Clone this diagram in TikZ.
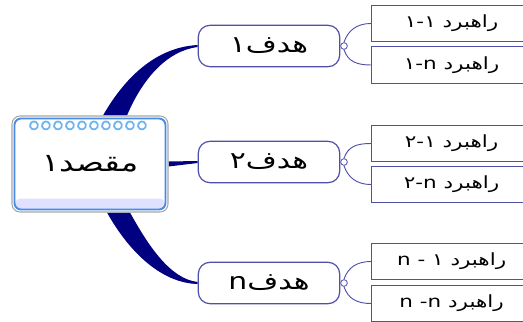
\documentclass[tikz,border=0pt]{standalone}
\usepackage{fontspec}
\newfontfamily\arabicfont[Script=Arabic,FakeStretch=1.28]{DejaVu Sans}
\TeXXeTstate=1
\usetikzlibrary{positioning}
\usetikzlibrary{calc}
\usetikzlibrary{backgrounds}
\definecolor{navy}{RGB}{0,0,128}
\definecolor{goalline}{RGB}{80,80,170}
\definecolor{ringblue}{RGB}{110,180,240}
\definecolor{boxblue}{RGB}{70,140,230}
\tikzset{mainbox/.style={draw=gray!70, line width=0.8pt, rounded corners=6pt, fill=white, minimum width=117pt, minimum height=72pt, font=\arabicfont\fontsize{19}{22}\selectfont},
goal/.style={draw=goalline, line width=0.9pt, rounded corners=2ex, fill=white, minimum width=106pt, minimum height=31pt, font=\arabicfont\fontsize{17.5}{20}\selectfont},
leaf/.style={draw=goalline, line width=0.9pt, fill=white, minimum width=120pt, minimum height=27.5pt, anchor=west, font=\arabicfont\fontsize{12.6}{14}\selectfont},
knot/.style={circle, draw=goalline, fill=white, inner sep=0pt, minimum size=5pt, line width=0.6pt},
ring/.style={draw=ringblue, line width=1.3pt}}

\begin{document}
\begin{tikzpicture}[x=0.75pt,y=-0.75pt]
\useasboundingbox (0,0) rectangle (523,321);
\node (c) at (90,164) [mainbox] {\beginR مقصد۱\endR};
\fill[blue!12, rounded corners=5pt] ($(c.south west)+(3,-3)$) rectangle ($(c.south east)+(-3,-14)$);
\draw[boxblue, line width=1.4pt, rounded corners=5pt] ($(c.south west)+(3,-3)$) rectangle ($(c.north east)+(-3,3)$);
\foreach \x in {0,...,9} {
\draw[ring] ($(c.north west)+(19+12*\x,8)$) arc (210:-130:4) -- +(-1,2.5);
}

\foreach \i/\y/\t in {1/46/هدف۱, 2/162/هدف۲, 3/283/هدف\kern0ptn} {
\node (g\i) at (269,\y) [goal] {\beginR \t\endR};
\node (k\i) [knot, right=0pt of g\i] {};
}

\node (l11) at (371,23.5) [leaf] {\beginR راهبرد ۱-۱\endR};
\node (l12) at (371,65) [leaf] {\beginR راهبرد ۱-n\endR};
\node (l21) at (371,143.5) [leaf] {\beginR راهبرد ۲-۱\endR};
\node (l22) at (371,184.5) [leaf] {\beginR راهبرد ۲-n\endR};
\node (l31) at (371,261.5) [leaf] {\beginR راهبرد ۱ - n\endR};
\node (l32) at (371,303.5) [leaf] {\beginR راهبرد -n n\endR};

\foreach \i in {1,2,3} {
\draw[goalline, line width=0.7pt] (k\i.north) .. controls +(4,-12) and +(-14,0) .. (l\i1.west);
\draw[goalline, line width=0.7pt] (k\i.south) .. controls +(4,12) and +(-14,0) .. (l\i2.west);
}

\begin{scope}[on background layer]
\fill[navy] ($(c.north)+(13,0)$) .. controls (128,72) and (160,47) .. ($(g1.west)+(0,-1)$) -- ($(g1.west)+(0,1)$) .. controls (166,51) and (142,80) .. ($(c.north)+(37,0)$) -- cycle;
\fill[navy] ($(c.east)+(0,-2.5)$) -- ($(g2.west)+(0,-1)$) -- ($(g2.west)+(0,1)$) -- ($(c.east)+(0,2.5)$) -- cycle;
\fill[navy] ($(c.south)+(17,0)$) .. controls (128,250) and (160,283) .. ($(g3.west)+(0,1)$) -- ($(g3.west)+(0,-1)$) .. controls (170,279) and (148,245) .. ($(c.south)+(40,0)$) -- cycle;
\end{scope}
\end{tikzpicture}
\end{document}
